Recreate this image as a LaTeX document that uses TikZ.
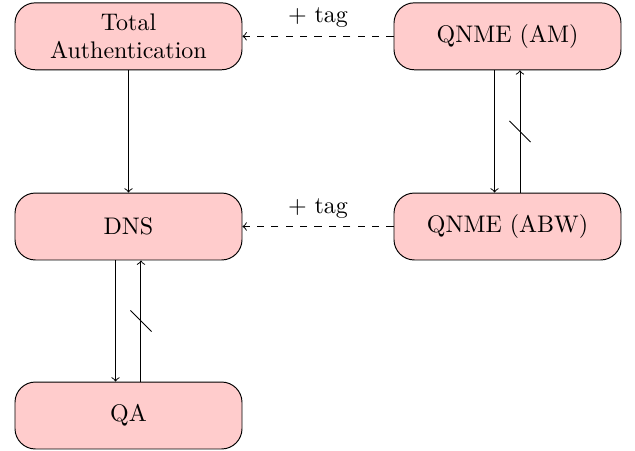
\documentclass[tikz,border=0pt]{standalone}
\usetikzlibrary{arrows}
\begin{document}
\begin{tikzpicture}[x=0.4167pt,y=-0.4167pt,
  box/.style={draw, fill=red!20, rounded corners=8.5pt, minimum width=94.6pt, minimum height=27.9pt, align=center, inner sep=2pt},
  flow/.style={->},
  tagflow/.style={->, dashed}]
\useasboundingbox (0,0) rectangle (635,450);
\node[box] (ta) at (128.5,36.3) {Total\\Authentication};
\node[box] (am) at (507.5,36.3) {QNME (AM)};
\node[box] (dns) at (128.5,226.5) {DNS};
\node[box] (abw) at (507.5,226.5) {QNME (ABW)};
\node[box] (qa) at (128.5,415.5) {QA};

\draw[tagflow] (am.west) -- node[above] {+ tag} (ta.east);
\draw[tagflow] (abw.west) -- node[above] {+ tag} (dns.east);
\draw[flow] (ta.south) -- (dns.north);

\draw[flow] ([xshift=-5.4pt]am.south) -- ([xshift=-5.4pt]abw.north);
\draw[flow] ([xshift=5.2pt]abw.north) -- coordinate[midway] (t1) ([xshift=5.2pt]am.south);
\draw ([shift={(-4.4pt,4.4pt)}]t1) -- ([shift={(4.4pt,-4.4pt)}]t1);

\draw[flow] ([xshift=-5.4pt]dns.south) -- ([xshift=-5.4pt]qa.north);
\draw[flow] ([xshift=5.2pt]qa.north) -- coordinate[midway] (t2) ([xshift=5.2pt]dns.south);
\draw ([shift={(-4.4pt,4.4pt)}]t2) -- ([shift={(4.4pt,-4.4pt)}]t2);
\end{tikzpicture}
\end{document}
